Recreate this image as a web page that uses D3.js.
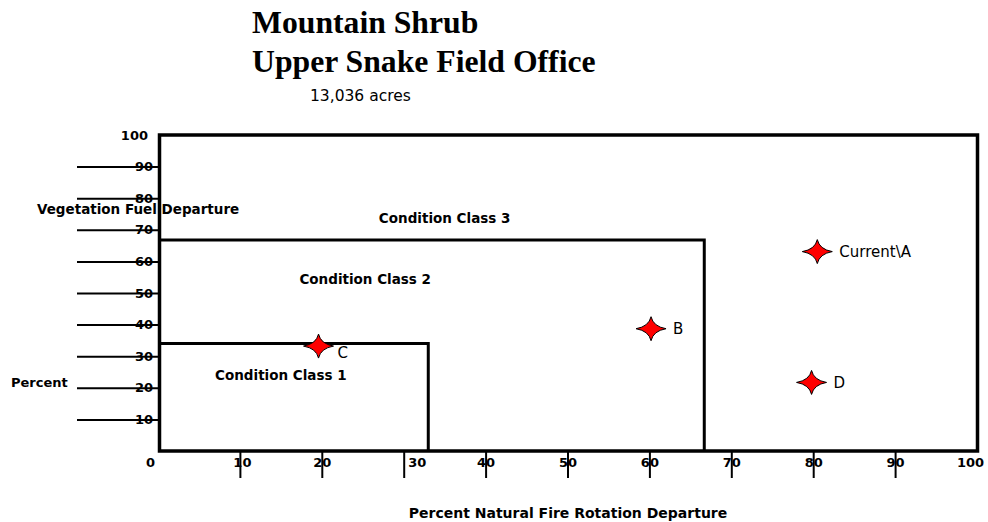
<!DOCTYPE html>
<html>
<head>
<meta charset="utf-8">
<style>
  body { margin: 0; background: #fff; }
  svg { display: block; font-family: 'Comic Sans MS', 'DejaVu Sans', sans-serif; }
  .title { font-family: 'Times New Roman', 'Liberation Serif', serif; font-weight: bold; font-size: 31.7px; }
  .lbl { font-weight: bold; font-size: 13.5px; }
  .tick text { font-weight: bold; font-size: 13px; font-family: 'Comic Sans MS', 'DejaVu Sans', sans-serif; }
  .pt-lbl { font-size: 15px; }
</style>
</head>
<body>
<div id="chart"></div>
<script src="https://cdnjs.cloudflare.com/ajax/libs/d3/7.8.5/d3.min.js"></script>
<script>
  // data
  const titleLines = ['Mountain Shrub', 'Upper Snake Field Office']
  const subtitle = '13,036 acres'
  const xTickValues = [0, 10, 20, 30, 40, 50, 60, 70, 80, 90, 100]
  const yTickValues = [10, 20, 30, 40, 50, 60, 70, 80, 90, 100]
  const pointNames = ['Current\\A', 'B', 'C', 'D']
  const pointX = [80.5, 60.2, 19.6, 79.8]
  const pointY = [63.1, 38.7, 33.2, 21.7]
  // condition class boundaries (upper-right corner of each box)
  const classNames = ['Condition Class 1', 'Condition Class 2', 'Condition Class 3']
  const classEdgeX = [33, 66.7]
  const classEdgeY = [34, 66.8]
  const classLabelX = [15, 25.3, 35]
  const classLabelY = [24, 54.4, 73.5]

  const W = 988, H = 522
  const plotL = 158, plotR = 977, plotT = 135, plotB = 451

  const x = d3.scaleLinear().domain([0, 100]).range([plotL, plotR])
  const y = d3.scaleLinear().domain([0, 100]).range([plotB, plotT])

  const svg = d3.select('#chart').append('svg')
    .attr('width', W)
    .attr('height', H)

  // titles
  svg.append('text')
    .attr('class', 'title')
    .selectAll('tspan')
    .data(titleLines)
    .enter()
    .append('tspan')
    .attr('x', 252)
    .attr('y', (d, i) => 33 + i * 39)
    .text(d => d)

  svg.append('text')
    .attr('x', 310)
    .attr('y', 101)
    .style('font-size', '15.5px')
    .text(subtitle)

  // y axis: long tick lines running through the labels
  const yAxis = svg.append('g')
    .attr('transform', `translate(${plotL},0)`)
    .call(d3.axisLeft(y).tickValues(yTickValues).tickSize(81).tickPadding(-76))
  yAxis.select('.domain').remove()
  yAxis.selectAll('.tick line').attr('stroke-width', 2)
    .filter(d => d === 100).remove()
  yAxis.selectAll('.tick text').attr('fill', '#000')
    .attr('dx', d => d === 100 ? -5 : 0)

  // x axis: ticks hanging below the frame
  const xNudge = v => v === 0 ? -8 : v === 30 ? 13 : v === 100 ? -7 : v === 10 ? 2 : 0
  const xAxis = svg.append('g')
    .attr('transform', `translate(0,${plotB})`)
    .call(d3.axisBottom(x).tickValues(xTickValues).tickSize(27).tickPadding(-20))
  xAxis.select('.domain').remove()
  xAxis.selectAll('.tick line').attr('stroke-width', 2)
    .filter(d => d === 0 || d === 100).remove()
  xAxis.selectAll('.tick text').attr('fill', '#000').attr('dx', xNudge)

  // condition class boxes
  svg.selectAll('.cc-line')
    .data(classEdgeX)
    .enter()
    .append('path')
    .attr('class', 'cc-line')
    .attr('d', (d, i) => `M${x(0)},${y(classEdgeY[i])}H${x(d)}V${y(0)}`)
    .attr('fill', 'none')
    .attr('stroke', '#000')
    .attr('stroke-width', 3)

  // outer frame
  svg.append('rect')
    .attr('x', x(0) + 1.5)
    .attr('y', y(100))
    .attr('width', x(100) - x(0) - 1)
    .attr('height', y(0) - y(100))
    .attr('fill', 'none')
    .attr('stroke', '#000')
    .attr('stroke-width', 3.5)

  svg.selectAll('.cc-lbl')
    .data(classNames)
    .enter()
    .append('text')
    .attr('class', 'lbl')
    .attr('x', (d, i) => x(classLabelX[i]))
    .attr('y', (d, i) => y(classLabelY[i]))
    .attr('dy', '0.35em')
    .attr('text-anchor', 'middle')
    .text(d => d)

  // axis titles
  svg.append('text').attr('class', 'lbl')
    .attr('x', 37).attr('y', 214)
    .text('Vegetation Fuel Departure')
  svg.append('text').attr('class', 'lbl')
    .attr('x', 11).attr('y', 387)
    .style('font-size', '13px')
    .text('Percent')
  svg.append('text').attr('class', 'lbl')
    .attr('x', 568).attr('y', 518)
    .attr('text-anchor', 'middle')
    .style('font-size', '14px')
    .text('Percent Natural Fire Rotation Departure')

  // four-point star markers
  const star = (rx, ry, c) =>
    `M${-rx},0Q${-c},${-c} 0,${-ry}Q${c},${-c} ${rx},0Q${c},${c} 0,${ry}Q${-c},${c} ${-rx},0Z`

  const pts = svg.selectAll('.pt')
    .data(pointNames)
    .enter()
    .append('g')
    .attr('class', 'pt')
    .attr('transform', (d, i) => `translate(${x(pointX[i])},${y(pointY[i])})`)

  pts.append('path')
    .attr('d', star(15, 12, 2.2))
    .attr('fill', '#ff0000')
    .attr('stroke', '#000')
    .attr('stroke-width', 1)

  pts.append('text')
    .attr('class', 'pt-lbl')
    .attr('x', d => d === 'C' ? 19 : 22)
    .attr('y', d => d === 'C' ? 7 : 0)
    .attr('dy', '0.35em')
    .text(d => d)
</script>
</body>
</html>
